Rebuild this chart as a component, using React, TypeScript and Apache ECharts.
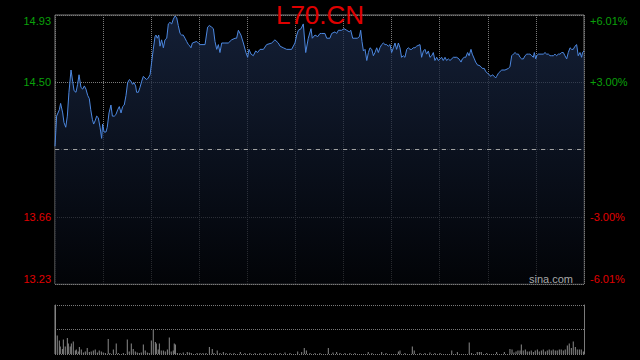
import React, { useEffect, useRef } from "react";
import * as echarts from "echarts";

const TITLE = "L70.CN";
const WATERMARK = "sina.com";
const BASE_PRICE = 14.08;
const RANGE_PCT = 6.01;
const PCT_STEP = 3.005;
const SESSION_MAX = 330;
const SESSION_STEP = 30;
const VOL_MAX = 98;

const PRICE_TIMES = [
  0, 1.0, 2.7, 3.5, 4.8, 5.6, 6.7, 7.7, 8.7, 10.0, 11.0, 11.9, 13.1, 14.1, 15.0, 16.2, 17.3, 18.3, 19.3, 20.4,
  21.4, 22.3, 23.3, 24.1, 25.0, 26.0, 27.0, 28.1, 29.1, 29.7, 30.6, 31.8, 32.6, 33.7, 34.9, 35.8, 37.0, 38.0, 39.1, 40.1,
  41.2, 42.2, 43.2, 44.3, 45.3, 46.4, 47.4, 48.4, 49.3, 50.3, 50.9, 52.0, 53.0, 54.1, 55.1, 56.1, 57.2, 58.2, 59.3, 60.3,
  61.3, 62.4, 63.0, 63.8, 64.7, 65.5, 66.5, 67.6, 68.6, 69.7, 70.7, 71.7, 72.8, 73.8, 74.9, 75.9, 76.9, 78.0, 79.0, 80.0,
  81.1, 82.1, 83.2, 84.2, 84.8, 85.7, 88.4, 89.4, 90.5, 93.6, 95.2, 96.3, 97.7, 98.8, 99.8, 100.9, 101.9, 102.9, 104.0, 106.0,
  108.1, 110.2, 112.3, 113.3, 114.4, 116.0, 117.5, 119.1, 120.2, 121.0, 122.3, 123.7, 125.2, 126.4, 127.9, 130.0, 132.0, 135.2, 137.2, 139.3,
  140.4, 142.4, 144.5, 147.6, 149.7, 150.8, 151.8, 153.5, 154.9, 156.4, 158.0, 159.7, 160.5, 162.2, 163.9, 165.3, 166.3, 168.4, 169.5, 171.5,
  172.6, 174.7, 175.7, 176.8, 178.8, 180.3, 182.0, 183.6, 184.5, 185.7, 187.1, 188.6, 189.9, 190.7, 191.5, 192.4, 193.4, 194.5, 195.5, 196.5,
  197.6, 198.6, 199.6, 200.7, 201.7, 202.7, 203.8, 204.8, 205.9, 206.9, 207.9, 209.0, 210.0, 211.1, 212.1, 213.1, 214.2, 215.2, 216.2, 217.3,
  218.3, 219.4, 220.4, 221.5, 222.5, 223.5, 224.6, 225.6, 227.7, 228.7, 229.8, 230.8, 231.8, 232.9, 233.9, 235.0, 236.0, 237.0, 238.1, 239.1,
  240.2, 241.2, 242.2, 243.3, 244.3, 245.4, 246.4, 248.5, 250.6, 252.0, 253.3, 254.1, 255.3, 256.2, 257.4, 258.3, 258.9, 259.5, 260.3, 261.6,
  262.4, 263.7, 264.5, 265.8, 266.6, 267.8, 268.7, 269.9, 270.8, 272.0, 272.8, 274.1, 274.9, 275.5, 276.6, 277.6, 278.7, 280.7, 282.8, 283.8,
  284.9, 285.9, 287.0, 288.0, 289.1, 290.1, 291.1, 292.2, 293.2, 294.3, 295.3, 296.3, 297.4, 298.4, 299.0, 299.9, 300.5, 301.5, 303.2, 304.6,
  305.7, 306.7, 307.8, 308.8, 309.8, 310.9, 311.9, 312.9, 314.0, 315.0, 316.1, 317.1, 318.1, 319.2, 320.2, 321.3, 322.3, 323.3, 324.4, 325.4,
  326.4, 327.5, 328.5, 329.1, 330.0,
];

const PRICES = [
  14.10, 14.29, 14.33, 14.37, 14.31, 14.25, 14.22, 14.29, 14.44, 14.58, 14.51, 14.45, 14.44, 14.49, 14.55, 14.47, 14.46, 14.48, 14.46, 14.42,
  14.40, 14.33, 14.27, 14.24, 14.26, 14.29, 14.28, 14.22, 14.15, 14.24, 14.19, 14.19, 14.22, 14.31, 14.36, 14.29, 14.29, 14.30, 14.33, 14.35,
  14.31, 14.35, 14.36, 14.42, 14.50, 14.52, 14.51, 14.49, 14.50, 14.48, 14.44, 14.44, 14.47, 14.51, 14.54, 14.53, 14.52, 14.53, 14.55, 14.63,
  14.71, 14.79, 14.80, 14.78, 14.80, 14.73, 14.77, 14.72, 14.77, 14.78, 14.87, 14.88, 14.87, 14.90, 14.92, 14.91, 14.86, 14.81, 14.80, 14.80,
  14.78, 14.76, 14.74, 14.73, 14.72, 14.75, 14.76, 14.75, 14.74, 14.74, 14.85, 14.86, 14.85, 14.84, 14.76, 14.71, 14.74, 14.69, 14.75, 14.75,
  14.75, 14.77, 14.78, 14.78, 14.83, 14.80, 14.75, 14.69, 14.66, 14.71, 14.68, 14.67, 14.70, 14.69, 14.71, 14.71, 14.74, 14.75, 14.77, 14.75,
  14.73, 14.72, 14.71, 14.71, 14.75, 14.80, 14.83, 14.84, 14.87, 14.69, 14.78, 14.84, 14.78, 14.80, 14.79, 14.81, 14.81, 14.81, 14.78, 14.78,
  14.81, 14.82, 14.81, 14.83, 14.83, 14.84, 14.83, 14.82, 14.83, 14.78, 14.78, 14.78, 14.79, 14.83, 14.76, 14.70, 14.71, 14.64, 14.69, 14.72,
  14.71, 14.67, 14.69, 14.72, 14.69, 14.72, 14.74, 14.75, 14.74, 14.74, 14.73, 14.74, 14.69, 14.72, 14.75, 14.71, 14.75, 14.72, 14.66, 14.67,
  14.66, 14.71, 14.72, 14.71, 14.71, 14.72, 14.72, 14.73, 14.74, 14.66, 14.70, 14.71, 14.68, 14.70, 14.66, 14.67, 14.69, 14.64, 14.66, 14.64,
  14.65, 14.66, 14.64, 14.66, 14.64, 14.65, 14.64, 14.66, 14.66, 14.65, 14.63, 14.65, 14.66, 14.66, 14.69, 14.67, 14.69, 14.71, 14.68, 14.65,
  14.63, 14.61, 14.61, 14.60, 14.59, 14.59, 14.57, 14.56, 14.55, 14.54, 14.55, 14.54, 14.53, 14.54, 14.56, 14.57, 14.58, 14.58, 14.59, 14.60,
  14.67, 14.68, 14.69, 14.68, 14.68, 14.66, 14.65, 14.65, 14.67, 14.68, 14.68, 14.68, 14.67, 14.66, 14.69, 14.65, 14.67, 14.68, 14.68, 14.68,
  14.69, 14.68, 14.68, 14.67, 14.67, 14.67, 14.68, 14.67, 14.68, 14.68, 14.69, 14.69, 14.67, 14.65, 14.69, 14.72, 14.71, 14.71, 14.73, 14.74,
  14.67, 14.69, 14.66, 14.69, 14.70,
];

const VOL_TIMES = [
  0, 1.4, 2.7, 3.3, 4.6, 5.2, 6.4, 7.7, 8.3, 9.5, 10.2, 11.4, 12.7, 13.3, 14.5, 15.2, 16.4, 17.7, 18.9, 20.1,
  21.4, 22.6, 23.9, 25.1, 26.4, 27.6, 28.9, 30.1, 31.4, 33.2, 34.3, 36.4, 38.2, 39.5, 42.6, 45.1, 46.3, 47.6, 48.8, 50.1,
  51.3, 52.6, 53.8, 55.1, 56.3, 57.6, 58.8, 60.1, 61.3, 62.6, 63.2, 64.4, 65.1, 66.3, 67.6, 68.8, 70.1, 71.3, 72.5, 73.8,
  74.4, 75.1, 76.3, 78, 80, 82.5, 83.8, 85, 88.6, 90.5, 92.3, 94.2, 96.3, 98.1, 99.2, 101.2, 102.9, 105, 106.7, 109.2,
  111.7, 115.6, 118.5, 121.6, 124.8, 127.9, 131, 134.1, 137.3, 140.4, 143.5, 146.6, 151.4, 153.9, 155.5, 156.8, 159.1, 162.2, 165.3, 170.5,
  173.4, 175.7, 177.8, 180.9, 184, 187.1, 195.4, 197.7, 203.8, 206.5, 214.2, 215.2, 218.3, 222.9, 224.1, 227.7, 230.8, 233.9, 237, 240.2,
  247.5, 251, 258.4, 259.9, 263.4, 264.7, 265.9, 269.3, 275.5, 280.3, 283.8, 285.1, 286.3, 287.6, 288.8, 290.1, 290.9, 292.1, 293.4, 294.6,
  295.9, 297.1, 298.4, 299.6, 300.9, 302.1, 303.4, 304.6, 305.9, 307.1, 308.3, 309.6, 310.8, 312.1, 313.3, 314.6, 315.8, 317.1, 318.3, 319.6,
  320.8, 322.1, 323.3, 324.6, 325.8, 327.1, 328.3, 329.6,
];

const VOLUMES = [
  98, 37, 27, 15, 10, 29, 15, 32, 21, 15, 21, 25, 7, 9, 5, 14, 9, 3, 5, 12,
  4, 5, 7, 9, 3, 7, 5, 3, 2, 30, 2, 9, 21, 2, 2, 29, 5, 21, 10, 5,
  3, 2, 3, 19, 7, 3, 2, 27, 49, 24, 21, 9, 21, 7, 7, 5, 9, 33, 5, 7,
  21, 19, 2, 2, 3, 4, 3, 2, 2, 2, 2, 2, 14, 10, 2, 7, 2, 4, 2, 2,
  2, 4, 2, 2, 2, 2, 2, 2, 2, 2, 3, 2, 5, 4, 12, 7, 2, 2, 2, 12,
  3, 4, 2, 2, 2, 2, 4, 2, 4, 2, 5, 7, 2, 15, 7, 2, 2, 3, 2, 2,
  7, 4, 23, 2, 4, 4, 4, 2, 4, 4, 10, 9, 3, 5, 7, 7, 19, 7, 9, 5,
  5, 7, 4, 7, 9, 5, 7, 9, 5, 7, 9, 7, 9, 7, 7, 9, 9, 7, 9, 17,
  21, 12, 25, 14, 9, 9, 9, 5,
];

const FONT = '"Liberation Sans", Arial, sans-serif';
const UP_COLOR = "#0aa00a";
const DOWN_COLOR = "#e00000";
const GRID_COLOR = "#7a7a7a";

export default function App() {
  const ref = useRef<HTMLDivElement>(null);

  useEffect(() => {
    if (!ref.current) return;
    const chart = echarts.init(ref.current, null, { renderer: "svg" });
    const pMin = BASE_PRICE * (1 - RANGE_PCT / 100);
    const pMax = BASE_PRICE * (1 + RANGE_PCT / 100);
    const priceData = PRICE_TIMES.map((t, i) => [t, PRICES[i]]);
    const volData = VOL_TIMES.map((t, i) => [t, VOLUMES[i]]);
    const isZero = (v: number) => Math.abs(v) < 1e-6;
    const signColor = (v: any) => (Number(v) > 0 ? UP_COLOR : DOWN_COLOR);

    chart.setOption({
      animation: false,
      backgroundColor: "#000",
      textStyle: { fontFamily: FONT },
      title: {
        text: TITLE,
        left: "center",
        top: 2,
        padding: 0,
        textStyle: { color: "#e00000", fontSize: 26, fontWeight: "normal", fontFamily: FONT },
        z: 10,
      },
      graphic: [
        {
          type: "text",
          right: 67,
          top: 273,
          z: 10,
          style: { text: WATERMARK, fill: "#a8a8a8", font: `11px ${FONT}` },
        },
      ],
      grid: [
        { left: 55, top: 15, width: 529, height: 269, show: true, borderColor: GRID_COLOR, borderWidth: 1, backgroundColor: "transparent" },
        { left: 55, top: 305, width: 529, height: 49 },
      ],
      xAxis: [
        {
          type: "value",
          gridIndex: 0,
          min: 0,
          max: SESSION_MAX,
          interval: SESSION_STEP,
          axisLine: { show: false },
          axisTick: { show: false },
          axisLabel: { show: false },
          splitLine: { show: true, lineStyle: { color: GRID_COLOR, type: [1, 1], width: 1 } },
        },
        {
          type: "value",
          gridIndex: 1,
          min: 0,
          max: SESSION_MAX,
          interval: SESSION_STEP,
          axisLine: { show: false },
          axisTick: { show: false },
          axisLabel: { show: false },
          splitLine: { show: false },
        },
      ],
      yAxis: [
        {
          type: "value",
          gridIndex: 0,
          min: pMin,
          max: pMax,
          show: false,
          splitLine: { show: false },
        },
        {
          type: "value",
          gridIndex: 0,
          position: "right",
          min: -RANGE_PCT,
          max: RANGE_PCT,
          interval: PCT_STEP,
          axisLine: { show: false },
          axisTick: { show: false },
          splitLine: { show: true, lineStyle: { color: GRID_COLOR, type: [1, 1], width: 1 } },
          axisLabel: {
            margin: 6,
            fontSize: 11,
            fontFamily: FONT,
            color: signColor,
            verticalAlignMaxLabel: "top",
            verticalAlignMinLabel: "bottom",
            formatter: (v: number) => (isZero(v) ? "" : (v > 0 ? "+" : "") + v.toFixed(2) + "%"),
          },
        },
        {
          type: "value",
          gridIndex: 0,
          position: "left",
          min: -RANGE_PCT,
          max: RANGE_PCT,
          interval: PCT_STEP,
          axisLine: { show: false },
          axisTick: { show: false },
          splitLine: { show: false },
          axisLabel: {
            margin: 4,
            fontSize: 11,
            fontFamily: FONT,
            color: signColor,
            verticalAlignMaxLabel: "top",
            verticalAlignMinLabel: "bottom",
            formatter: (v: number) => (isZero(v) ? "" : (BASE_PRICE * (1 + v / 100)).toFixed(2)),
          },
        },
        {
          type: "value",
          gridIndex: 1,
          position: "left",
          min: 0,
          max: VOL_MAX,
          interval: VOL_MAX / 2,
          axisLine: { show: true, lineStyle: { color: GRID_COLOR } },
          axisTick: { show: false },
          axisLabel: { show: false },
          splitLine: { show: true, lineStyle: { color: GRID_COLOR, type: [1, 1], width: 1 } },
        },
        {
          type: "value",
          gridIndex: 1,
          position: "right",
          min: 0,
          max: VOL_MAX,
          interval: VOL_MAX / 2,
          axisLine: { show: true, lineStyle: { color: GRID_COLOR } },
          axisTick: { show: false },
          axisLabel: { show: false },
          splitLine: { show: false },
        },
      ],
      series: [
        {
          type: "line",
          xAxisIndex: 0,
          yAxisIndex: 0,
          data: priceData,
          showSymbol: false,
          symbol: "none",
          lineStyle: { color: "#4d88e0", width: 1 },
          areaStyle: {
            origin: "start",
            color: new echarts.graphic.LinearGradient(0, 0, 0, 1, [
              { offset: 0, color: "#1c2c4c" },
              { offset: 1, color: "#03050a" },
            ]),
          },
          markLine: {
            silent: true,
            symbol: "none",
            label: { show: false },
            lineStyle: { color: "#a0a0a0", type: [4, 5], width: 1 },
            data: [{ yAxis: BASE_PRICE }],
          },
        },
        {
          type: "bar",
          xAxisIndex: 1,
          yAxisIndex: 3,
          data: volData,
          barWidth: 1,
          itemStyle: { color: "#8a8a8a" },
        },
      ],
    });

    return () => chart.dispose();
  }, []);

  return (
    <div
      ref={ref}
      style={{ position: "fixed", left: 0, top: 0, width: 640, height: 360, background: "#000" }}
    />
  );
}
